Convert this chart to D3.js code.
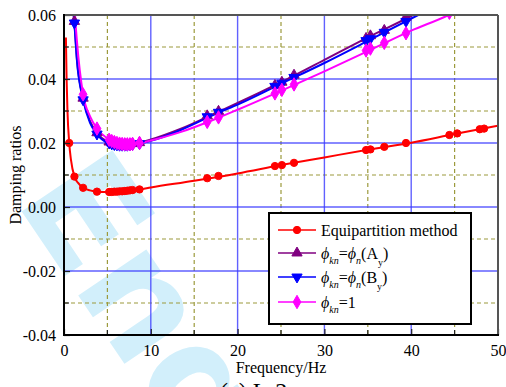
<!DOCTYPE html>
<html><head><meta charset="utf-8">
<script src="https://cdn.jsdelivr.net/npm/d3@7"></script>
<style>html,body{margin:0;padding:0;background:#fff;}svg{display:block;}</style>
</head><body>
<svg id="c" width="506" height="387"></svg>
<script>
// ---- data ----
const modalFreqs = [0.6, 1.2, 2.2, 3.8, 5.2, 5.5, 5.8, 6.1, 6.4, 6.7, 7.0, 7.3, 7.6, 7.9, 8.7, 16.5, 17.8, 24.3, 25.1, 26.5, 34.8, 35.3, 36.9, 39.4, 44.4, 45.3, 47.9, 48.4];
const equiMarkers = [0.0200, 0.0095, 0.0060, 0.0048, 0.0047, 0.0047, 0.0048, 0.0048, 0.0049, 0.0049, 0.0050, 0.0051, 0.0052, 0.0053, 0.0055, 0.0090, 0.0097, 0.0128, 0.0131, 0.0138, 0.0178, 0.0180, 0.0188, 0.0200, 0.0225, 0.0230, 0.0243, 0.0245];
const ayMarkers = [0.099, 0.0580, 0.0340, 0.0232, 0.0203, 0.0200, 0.0198, 0.0197, 0.0196, 0.0196, 0.0196, 0.0196, 0.0197, 0.0198, 0.0201, 0.0285, 0.0299, 0.0380, 0.0390, 0.0412, 0.0527, 0.0535, 0.0552, 0.0593, 0.0663, 0.0676, 0.0714, 0.0721];
const byMarkers = [0.098, 0.0575, 0.0335, 0.0228, 0.0200, 0.0197, 0.0195, 0.0194, 0.0193, 0.0193, 0.0193, 0.0193, 0.0194, 0.0195, 0.0198, 0.0282, 0.0296, 0.0377, 0.0387, 0.0405, 0.0520, 0.0526, 0.0546, 0.0580, 0.0649, 0.0662, 0.0698, 0.0706];
const oneMarkers = [0.125, 0.0640, 0.0352, 0.0245, 0.0210, 0.0206, 0.0203, 0.0200, 0.0198, 0.0197, 0.0196, 0.0196, 0.0196, 0.0197, 0.0200, 0.0266, 0.0280, 0.0355, 0.0366, 0.0383, 0.0489, 0.0495, 0.0513, 0.0543, 0.0607, 0.0619, 0.0654, 0.0660];

const equiCurveF = [0.22, 0.3, 0.4, 0.6, 0.8, 1.2, 1.6, 2.2, 3.0, 3.8, 5.0, 6.0, 7.0, 8.7, 10, 15, 20, 25, 30, 35, 40, 45, 50];
const equiCurveV = [0.053, 0.040, 0.030, 0.020, 0.0148, 0.0095, 0.0076, 0.0060, 0.0052, 0.0048, 0.0047, 0.0048, 0.0050, 0.0055, 0.0061, 0.0082, 0.0105, 0.0131, 0.0155, 0.0179, 0.0201, 0.0228, 0.0254];
const ayCurveF = [1.0, 1.12, 1.2, 1.5, 2.2, 3.0, 3.8, 5.0, 6.5, 8.0, 10, 13.4, 17.8, 20, 25, 30, 35, 40.2, 42];
const ayCurveV = [0.067, 0.060, 0.0575, 0.0458, 0.0340, 0.0268, 0.0232, 0.0205, 0.0196, 0.0198, 0.0211, 0.0244, 0.0298, 0.0325, 0.0390, 0.0460, 0.0530, 0.0600, 0.0627];
const byCurveF = [1.0, 1.12, 1.2, 1.5, 2.2, 3.0, 3.8, 5.0, 6.5, 8.0, 10, 13.4, 17.8, 20, 25, 30, 35, 40.8, 42];
const byCurveV = [0.066, 0.060, 0.0572, 0.0455, 0.0335, 0.0263, 0.0228, 0.0201, 0.0193, 0.0195, 0.0207, 0.0240, 0.0295, 0.0320, 0.0385, 0.0450, 0.0519, 0.0600, 0.0617];
const oneCurveF = [1.1, 1.27, 1.5, 2.2, 3.0, 3.8, 5.0, 6.5, 8.0, 10, 13.4, 17.8, 20, 25, 30, 35, 40, 44.3, 46];
const oneCurveV = [0.069, 0.060, 0.0515, 0.0352, 0.0283, 0.0245, 0.0214, 0.0199, 0.0197, 0.0208, 0.0234, 0.0279, 0.0304, 0.0363, 0.0424, 0.0487, 0.0551, 0.0600, 0.0624];

const xTicks = [0, 10, 20, 30, 40, 50];
const xTickLabels = ["0", "10", "20", "30", "40", "50"];
const xMinor = [5, 15, 25, 35, 45];
const yTicks = [-0.04, -0.02, 0.00, 0.02, 0.04, 0.06];
const yTickLabels = ["-0.04", "-0.02", "0.00", "0.02", "0.04", "0.06"];
const yMinor = [-0.03, -0.01, 0.01, 0.03, 0.05];

const seriesNames = ["Equipartition method", "A", "B", "1"];
const seriesColors = ["#ff0000", "#800080", "#0000ff", "#ff00ff"];

// ---- drawing ----
const svg = d3.select("#c");
const serif = "'Liberation Serif','Times New Roman',Times,serif";
const L = 64, R = 498, T = 15, B = 335;
const x = d3.scaleLinear().domain([0, 50]).range([L, R]);
const y = d3.scaleLinear().domain([-0.04, 0.06]).range([B, T]);

// watermark
svg.append("text").attr("transform", "translate(14,200) rotate(56)")
  .attr("font-family", "'DejaVu Sans',Arial,sans-serif").attr("font-weight", "bold")
  .attr("font-size", 150).attr("fill", "#d2effb").text("Eng");

svg.append("defs").append("clipPath").attr("id", "clip")
  .append("rect").attr("x", L).attr("y", T).attr("width", R - L).attr("height", B - T);

const grid = svg.append("g");
grid.selectAll(".vm").data(xMinor).join("line")
  .attr("x1", d => x(d)).attr("x2", d => x(d)).attr("y1", T).attr("y2", B)
  .attr("stroke", "#9c9a3c").attr("stroke-width", 1.2).attr("stroke-dasharray", "4,3");
grid.selectAll(".hm").data(yMinor).join("line")
  .attr("y1", d => y(d)).attr("y2", d => y(d)).attr("x1", L).attr("x2", R)
  .attr("stroke", "#9c9a3c").attr("stroke-width", 1.2).attr("stroke-dasharray", "4,3");
grid.selectAll(".vM").data(xTicks.slice(1, -1)).join("line")
  .attr("x1", d => x(d)).attr("x2", d => x(d)).attr("y1", T).attr("y2", B)
  .attr("stroke", "#3a3aff").attr("stroke-opacity", 0.8).attr("stroke-width", 1.4);
grid.selectAll(".hM").data(yTicks.slice(1, -1)).join("line")
  .attr("y1", d => y(d)).attr("y2", d => y(d)).attr("x1", L).attr("x2", R)
  .attr("stroke", "#3a3aff").attr("stroke-opacity", 0.8).attr("stroke-width", 1.4);

const plot = svg.append("g").attr("clip-path", "url(#clip)");
const line = d3.line().x(d => x(d[0])).y(d => y(d[1])).curve(d3.curveMonotoneX);
const curves = [
  [equiCurveF, equiCurveV], [ayCurveF, ayCurveV], [byCurveF, byCurveV], [oneCurveF, oneCurveV]
];
const markerVals = [equiMarkers, ayMarkers, byMarkers, oneMarkers];
const symTypes = [d3.symbolCircle, d3.symbolTriangle, d3.symbolTriangle, d3.symbolDiamond];
const symSizes = [42, 46, 46, 52];
const symRot = [0, 0, 180, 0];

function marker(g, i, cx, cy) {
  g.append("path").attr("d", d3.symbol().type(symTypes[i]).size(symSizes[i])())
    .attr("transform", `translate(${cx},${cy}) rotate(${symRot[i]})`)
    .attr("fill", seriesColors[i]).attr("stroke", seriesColors[i]).attr("stroke-width", 1);
}

curves.forEach((c, i) => {
  const pts = c[0].map((f, k) => [f, c[1][k]]);
  plot.append("path").datum(pts).attr("d", line).attr("fill", "none")
    .attr("stroke", seriesColors[i]).attr("stroke-width", 2);
});
markerVals.forEach((vals, i) => {
  modalFreqs.forEach((f, k) => marker(plot, i, x(f), y(vals[k])));
});

// axes
const ax = svg.append("g").attr("font-family", serif);
const xAxis = d3.axisBottom(x).tickValues(xTicks).tickFormat((d, i) => xTickLabels[i]).tickSizeInner(-6).tickSizeOuter(0).tickPadding(10);
const yAxis = d3.axisLeft(y).tickValues(yTicks).tickFormat((d, i) => yTickLabels[i]).tickSizeInner(-6).tickSizeOuter(0).tickPadding(8);
const gx = ax.append("g").attr("transform", `translate(0,${B})`).call(xAxis);
const gy = ax.append("g").attr("transform", `translate(${L},0)`).call(yAxis);
[gx, gy].forEach(g => {
  g.select(".domain").remove();
  g.selectAll("text").attr("font-size", 16).attr("font-family", serif).attr("fill", "#000");
  g.selectAll("line").attr("stroke", "#222").attr("stroke-width", 1.2);
});
// minor ticks
ax.selectAll(".mtx").data(xMinor).join("line").attr("x1", d => x(d)).attr("x2", d => x(d))
  .attr("y1", B).attr("y2", B - 5).attr("stroke", "#222").attr("stroke-width", 1.2);
ax.selectAll(".mty").data(yMinor).join("line").attr("y1", d => y(d)).attr("y2", d => y(d))
  .attr("x1", L).attr("x2", L + 5).attr("stroke", "#222").attr("stroke-width", 1.2);

// frame
ax.append("line").attr("x1", L).attr("x2", R).attr("y1", T).attr("y2", T).attr("stroke", "#555").attr("stroke-width", 2);
ax.append("line").attr("x1", R).attr("x2", R).attr("y1", T).attr("y2", B).attr("stroke", "#555").attr("stroke-width", 2);
ax.append("line").attr("x1", L).attr("x2", L).attr("y1", T - 1).attr("y2", B + 1).attr("stroke", "#000").attr("stroke-width", 2);
ax.append("line").attr("x1", L - 1).attr("x2", R + 1).attr("y1", B).attr("y2", B).attr("stroke", "#000").attr("stroke-width", 2);

// axis titles
svg.append("text").attr("x", (L + R) / 2).attr("y", 373).attr("text-anchor", "middle")
  .attr("font-family", serif).attr("font-size", 16).text("Frequency/Hz");
svg.append("text").attr("transform", `translate(21,${(T + B) / 2}) rotate(-90)`).attr("text-anchor", "middle")
  .attr("font-family", serif).attr("font-size", 16).text("Damping ratios");
svg.append("text").attr("x", 220).attr("y", 399).attr("font-family", serif).attr("font-size", 24)
  .text("(a)  L-2");

// legend
const lg = svg.append("g");
lg.append("rect").attr("x", 269).attr("y", 213).attr("width", 202).attr("height", 111)
  .attr("fill", "#fff").attr("stroke", "#000").attr("stroke-width", 2);
const rowY = [230, 253, 277, 302];
rowY.forEach((ry, i) => {
  lg.append("line").attr("x1", 278).attr("x2", 316).attr("y1", ry).attr("y2", ry)
    .attr("stroke", seriesColors[i]).attr("stroke-width", 1.5);
  marker(lg, i, 297, ry);
});
const tx = 321;
lg.append("text").attr("x", tx).attr("y", rowY[0] + 5.5).attr("font-family", serif).attr("font-size", 16).text(seriesNames[0]);
function phiLabel(ry, tail, sub) {
  const t = lg.append("text").attr("x", tx).attr("y", ry + 5.5).attr("font-family", serif).attr("font-size", 16);
  t.append("tspan").attr("font-style", "italic").text("ϕ");
  t.append("tspan").attr("font-style", "italic").attr("font-size", 10).attr("dy", 5).text("kn");
  if (tail === null) {
    t.append("tspan").attr("dy", -5).text("=" + sub);
    return;
  }
  t.append("tspan").attr("dy", -5).text("=");
  t.append("tspan").attr("font-style", "italic").text("ϕ");
  t.append("tspan").attr("font-style", "italic").attr("font-size", 10).attr("dy", 5).text("n");
  t.append("tspan").attr("dy", -5).text("(" + tail);
  t.append("tspan").attr("font-size", 10).attr("dy", 7).text("y");
  t.append("tspan").attr("dy", -7).text(")");
}
phiLabel(rowY[1], seriesNames[1], null);
phiLabel(rowY[2], seriesNames[2], null);
phiLabel(rowY[3], null, seriesNames[3]);
</script>
</body></html>
